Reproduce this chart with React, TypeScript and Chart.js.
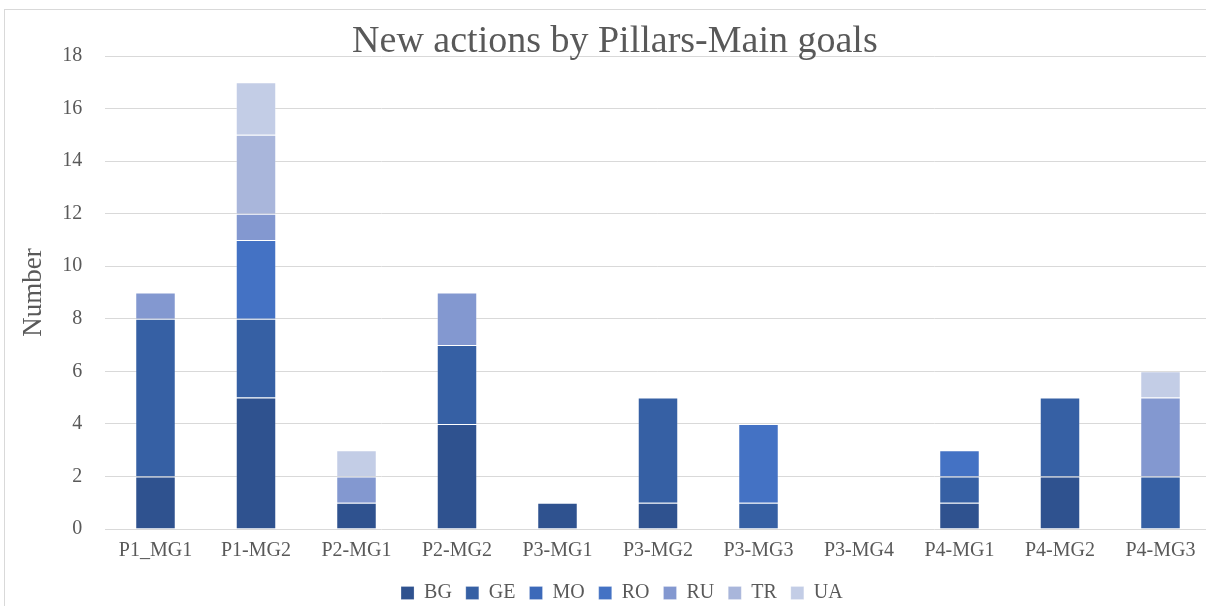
import React, { useEffect, useRef } from "react";
import { Chart, registerables } from "chart.js";

Chart.register(...registerables);

const categories = ["P1_MG1", "P1-MG2", "P2-MG1", "P2-MG2", "P3-MG1", "P3-MG2", "P3-MG3", "P3-MG4", "P4-MG1", "P4-MG2", "P4-MG3"];
const seriesNames = ["BG", "GE", "MO", "RO", "RU", "TR", "UA"];
const BG = [2, 5, 1, 4, 1, 1, 0, 0, 1, 2, 0];
const GE = [6, 3, 0, 3, 0, 4, 1, 0, 1, 3, 2];
const MO = [0, 0, 0, 0, 0, 0, 0, 0, 0, 0, 0];
const RO = [0, 3, 0, 0, 0, 0, 3, 0, 1, 0, 0];
const RU = [1, 1, 1, 2, 0, 0, 0, 0, 0, 0, 3];
const TR = [0, 3, 0, 0, 0, 0, 0, 0, 0, 0, 0];
const UA = [0, 2, 1, 0, 0, 0, 0, 0, 0, 0, 1];
const seriesValues = [BG, GE, MO, RO, RU, TR, UA];
const seriesColors = ["#2F528F", "#3660A4", "#3C69B9", "#4472C4", "#8398D0", "#A9B6DB", "#C3CDE6"];
const yTicks = { min: 0, max: 18, step: 2 };

const FONT = "'Liberation Serif', 'DejaVu Serif', serif";
const TEXT = "#595959";

const framePlugin = {
  id: "frame",
  beforeDraw(chart: any) {
    const ctx = chart.ctx;
    ctx.save();
    ctx.fillStyle = "#ffffff";
    ctx.fillRect(0, 0, chart.width, chart.height);
    ctx.strokeStyle = "#d9d9d9";
    ctx.lineWidth = 1;
    ctx.strokeRect(4.5, 9.5, 1230, 640);
    ctx.restore();
  },
  afterLayout(chart: any) {
    const t = chart.titleBlock;
    if (t) {
      t.left += 7;
      t.right += 7;
      t.top += 8;
      t.bottom += 8;
    }
    const l = chart.legend;
    if (l) {
      l.left += 14;
      l.right += 14;
    }
  },
};

export default function App() {
  const ref = useRef<HTMLCanvasElement | null>(null);
  useEffect(() => {
    if (!ref.current) return;
    const chart = new Chart(ref.current, {
      type: "bar",
      data: {
        labels: categories,
        datasets: seriesNames.map((name, i) => ({
          label: name,
          data: seriesValues[i],
          backgroundColor: seriesColors[i],
          borderColor: "rgba(255,255,255,0.22)",
          borderWidth: 1,
          categoryPercentage: 1,
          barPercentage: 0.403,
        })),
      },
      options: {
        responsive: false,
        animation: false,
        layout: { padding: { left: 5, top: 9, right: 19.25, bottom: 0 } },
        plugins: {
          title: {
            display: true,
            text: "New actions by Pillars-Main goals",
            color: TEXT,
            font: { family: FONT, size: 38, weight: "normal", lineHeight: 1 },
            padding: { top: 6.5, bottom: 2.5 },
          },
          legend: {
            position: "bottom",
            labels: {
              boxWidth: 13,
              boxHeight: 13,
              padding: 14,
              color: TEXT,
              font: { family: FONT, size: 20 },
            },
          },
          tooltip: { enabled: false },
        },
        scales: {
          x: {
            stacked: true,
            grid: { display: false, drawTicks: false },
            border: { display: false },
            ticks: { color: TEXT, font: { family: FONT, size: 20 }, padding: 10, maxRotation: 0, autoSkip: false },
            afterFit(scale: any) {
              scale.height = 40;
            },
          },
          y: {
            stacked: true,
            min: yTicks.min,
            max: yTicks.max,
            grid: { color: "#d9d9d9", lineWidth: 1, drawTicks: false },
            border: { display: false },
            ticks: { stepSize: yTicks.step, color: TEXT, font: { family: FONT, size: 20 }, padding: 23 },
            title: {
              display: true,
              text: "Number",
              color: TEXT,
              font: { family: FONT, size: 27 },
              padding: { top: 12.5, bottom: 0 },
            },
            afterFit(scale: any) {
              scale.width = 100.25;
            },
          },
        },
      },
      plugins: [framePlugin],
    } as any);
    return () => chart.destroy();
  }, []);
  return (
    <div style={{ position: "fixed", left: 0, top: 0, width: 1206, height: 606, overflow: "hidden", background: "#fff" }}>
      <canvas ref={ref} width={1230} height={613} style={{ display: "block" }} />
    </div>
  );
}
